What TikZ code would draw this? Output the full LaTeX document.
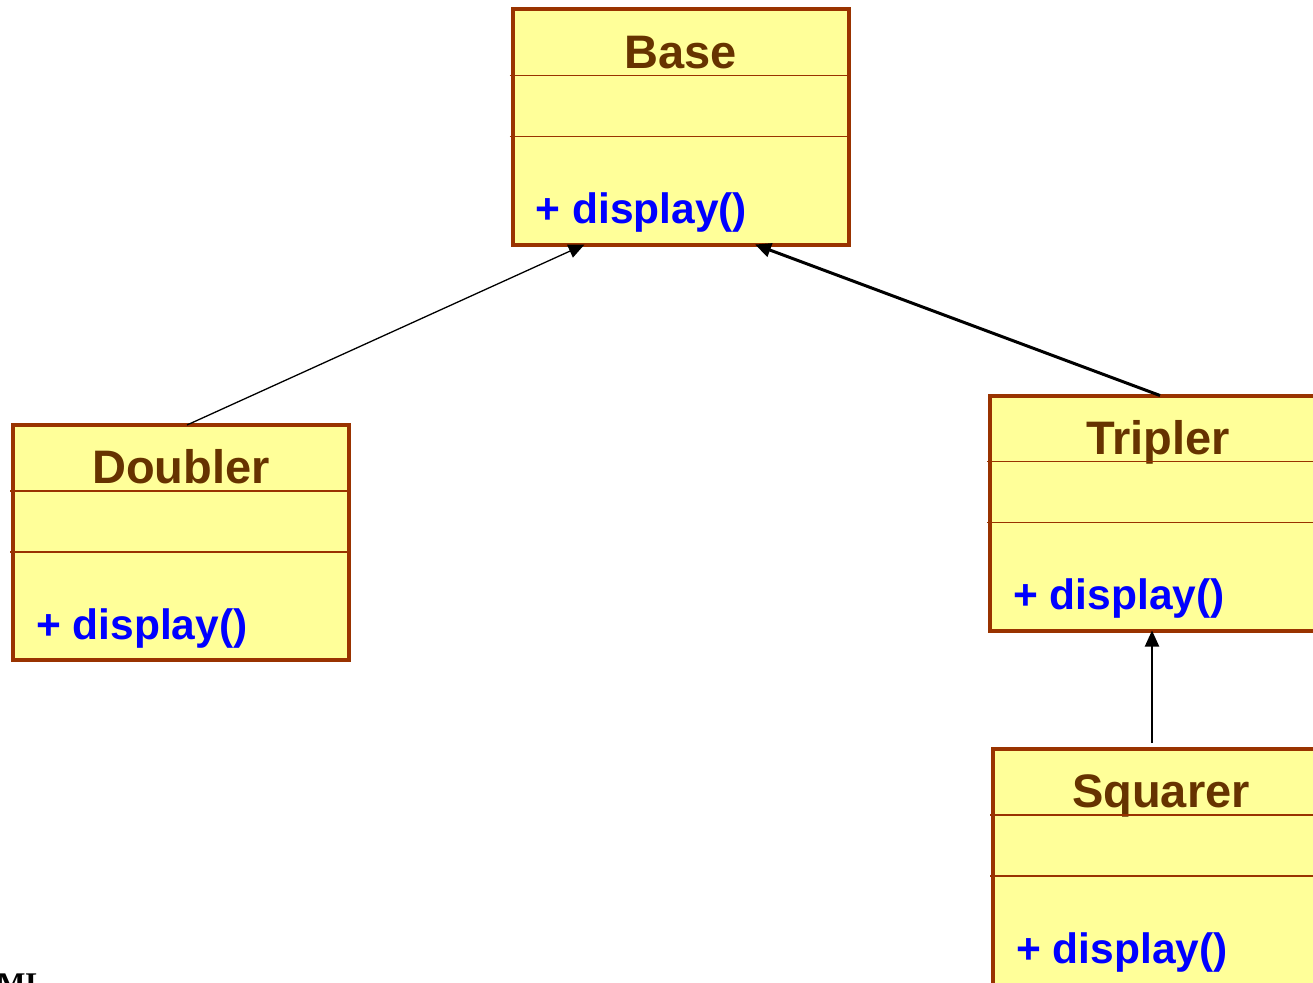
\documentclass[tikz,border=0pt]{standalone}
\usepackage{fontspec}
\setmainfont{Liberation Sans}
\newfontfamily\captionserif{Liberation Serif}
\usetikzlibrary{arrows.meta,calc}

\definecolor{frameedge}{HTML}{993300}
\definecolor{framefill}{HTML}{FFFF99}
\definecolor{titleink}{HTML}{663300}
\definecolor{opink}{HTML}{0000FF}

\tikzset{
  classframe/.style={rectangle, draw=frameedge, fill=framefill, line width=4pt,
    minimum width=336pt, minimum height=235pt, inner sep=0pt, outer sep=0pt,
    anchor=north west},
  classtitle/.style={font=\fontsize{47}{50}\selectfont\bfseries, text=titleink,
    inner sep=0pt, anchor=base},
  classop/.style={font=\fontsize{42.5}{46}\selectfont\bfseries, text=opink,
    inner sep=0pt, anchor=base west},
  divider/.style={draw=frameedge, line width=1.5pt},
  inherit/.style={draw=black, -{Triangle[length=16pt,width=14pt]}},
}

% A UML class box: [extra frame options], name, top-left corner, title
\newcommand{\umlclass}[4][]{%
  \node[classframe,#1] (#2) at #3 {};
  \node[classtitle] (#2-title) at ($(#2.north)+(0,58.5)$) {#4};
  \draw[divider] ($(#2.north west)+(-3,66)$) -- ($(#2.north east)+(0,66)$);
  \draw[divider] ($(#2.north west)+(-3,127)$) -- ($(#2.north east)+(0,127)$);
  \node[classop] (#2-op) at ($(#2.north west)+(23,214)$) {+ display()};
}

\begin{document}
\begin{tikzpicture}[x=1pt,y=-1pt]
  \useasboundingbox (0,0) rectangle (1313,982);
  \clip (0,0) rectangle (1313,982);

  \umlclass{base}{(512.5,9.5)}{Base}
  \umlclass{doubler}{(13,425)}{Doubler}
  \umlclass{tripler}{(990,395.5)}{Tripler}
  \umlclass[minimum height=245pt]{squarer}{(993,749)}{Squarer}

  % inheritance arrows
  \draw[inherit, line width=1.3pt] ($(doubler.north)+(6,0)$) -- ($(base.south)+(-96,0)$);
  \draw[inherit, line width=3pt] ($(tripler.north)+(2,0)$) -- ($(base.south)+(74.5,0)$);
  \coordinate (sq-stem) at ($(squarer.north)+(-9,-6)$);
  \draw[inherit, line width=2pt] (sq-stem) -- (sq-stem |- tripler.south);

  % caption fragment at the lower edge
  \node[anchor=base west, inner sep=0pt, font=\captionserif\fontsize{30}{32}\selectfont\bfseries]
    (caption) at (-3,993) {ML};
\end{tikzpicture}
\end{document}
